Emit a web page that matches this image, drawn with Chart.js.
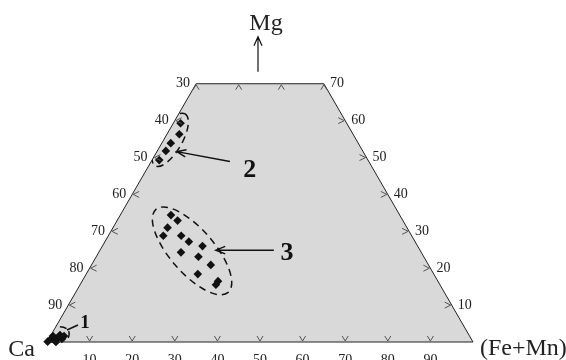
<!DOCTYPE html>
<html>
<head>
<meta charset="utf-8">
<script src="https://cdn.jsdelivr.net/npm/chart.js@4/dist/chart.umd.min.js"></script>
<style>
  html, body { margin: 0; padding: 0; background: #fff; }
  #wrap { width: 566px; height: 360px; }
</style>
</head>
<body>
<div id="wrap"><canvas id="ternaryChart" width="566" height="360"></canvas></div>
<script>
// compositions in %, Ca = 100 - Mg - (Fe+Mn)
const group1Mg   = [0.1, 0.8, 0.4, 1.6, 1.1, 0.8, 1.9, 1.6, 0.0];
const group1FeMn = [0.1, 0.5, 1.7, 0.6, 2.0, 3.1, 2.1, 3.2, 2.1];
const group2Mg   = [59.3, 56.3, 53.9, 51.8, 49.3];
const group2FeMn = [1.7, 2.9, 2.1, 2.0, 1.7];
const group3Mg   = [34.4, 32.9, 31.0, 28.8, 28.8, 27.2, 26.0, 24.3, 23.1, 20.9, 18.4, 16.5, 15.5];
const group3FeMn = [11.9, 14.2, 12.8, 12.9, 17.1, 19.7, 23.5, 19.3, 24.0, 28.0, 26.2, 31.9, 31.9];

// diagram frame (cut at Mg = 70): Ca corner, top-left, top-right, (Fe+Mn) corner
const frameMg   = [0, 70, 70, 0];
const frameFeMn = [0, 0, 30, 100];

// tick labels
const bottomTicks = [10, 20, 30, 40, 50, 60, 70, 80, 90];     // Fe+Mn
const leftTicks   = [30, 40, 50, 60, 70, 80, 90];             // Ca
const rightTicks  = [10, 20, 30, 40, 50, 60, 70];             // Mg
const topTicks    = [0, 10, 20, 30];                          // Fe+Mn along Mg = 70
const cornerNames = ["Ca", "Mg", "(Fe+Mn)"];

const H = Math.sqrt(3) / 2;
function toXY(mg, feMn) {
  return { x: feMn + mg / 2, y: mg * H };
}
function pointsOf(mgs, fes) {
  return mgs.map((m, i) => toXY(m, fes[i]));
}

const SERIF = '"Liberation Serif", "DejaVu Serif", serif';

// group rings / arrows, anchored in composition space
const rings = [
  { mg: 1.1, fe: 1.1, rx: 16, ry: 10, rot: -25 },
  { mg: 54.8, fe: 1.5, rx: 30, ry: 12, rot: -60 },
  { mg: 24.7, fe: 21.7, rx: 55, ry: 22, rot: 49 }
];
const pointers = [
  { text: "1", from: [3.25, 3.07], to: [4.61, 4.97], label: [5.2, 6.3], size: 19, head: false },
  { text: "2", from: [48.9, 18.5], to: [51.6, 4.66], label: [46.6, 24.3], size: 26, head: true },
  { text: "3", from: [24.9, 40.8], to: [24.9, 27.2], label: [24.1, 44.3], size: 26, head: true }
];

const ternaryDecor = {
  id: "ternaryDecor",
  afterDatasetsDraw(chart) {
    const ctx = chart.ctx;
    const sx = chart.scales.x, sy = chart.scales.y;
    const pix = (mg, fe) => {
      const p = toXY(mg, fe);
      return [sx.getPixelForValue(p.x), sy.getPixelForValue(p.y)];
    };
    ctx.save();

    // chevron ticks
    ctx.strokeStyle = "#555";
    ctx.lineWidth = 1;
    function chev(x, y, ax, ay, bx, by) {
      ctx.beginPath();
      ctx.moveTo(x + ax, y + ay);
      ctx.lineTo(x, y);
      ctx.lineTo(x + bx, y + by);
      ctx.stroke();
    }
    bottomTicks.forEach(v => { const [x, y] = pix(0, v); chev(x, y - 1, -3, -5, 3, -5); });
    topTicks.forEach(v => { const [x, y] = pix(70, v); chev(x, y + 1, -3, 5, 3, 5); });
    leftTicks.filter(v => v > 30).forEach(v => { const [x, y] = pix(100 - v, 0); chev(x + 1, y, 6, -3, 6, 3); });
    rightTicks.filter(v => v < 70).forEach(v => { const [x, y] = pix(v, 100 - v); chev(x - 1, y, -6, -3, -6, 3); });

    // tick labels
    ctx.fillStyle = "#222";
    ctx.font = "14px " + SERIF;
    ctx.textAlign = "center";
    ctx.textBaseline = "top";
    bottomTicks.forEach(v => { const [x, y] = pix(0, v); ctx.fillText(String(v), x, y + 11); });
    ctx.textBaseline = "middle";
    ctx.textAlign = "right";
    leftTicks.forEach(v => { const [x, y] = pix(100 - v, 0); ctx.fillText(String(v), x - 6, y); });
    ctx.textAlign = "left";
    rightTicks.forEach(v => { const [x, y] = pix(v, 100 - v); ctx.fillText(String(v), x + 6, y); });

    // corner names
    ctx.font = "24px " + SERIF;
    ctx.textBaseline = "alphabetic";
    const [cax, cay] = pix(0, 0);
    ctx.textAlign = "right";
    ctx.fillText(cornerNames[0], cax - 12, cay + 14);
    const [fex, fey] = pix(0, 100);
    ctx.textAlign = "left";
    ctx.fillText(cornerNames[2], fex + 7, fey + 13);
    const [tlx, tly] = pix(70, 0);
    const [trx] = pix(70, 30);
    const mx = (tlx + trx) / 2;
    ctx.textAlign = "center";
    ctx.fillText(cornerNames[1], mx + 6, tly - 54);

    // Mg arrow
    ctx.strokeStyle = "#111";
    ctx.lineWidth = 1.2;
    ctx.beginPath();
    ctx.moveTo(mx - 2, tly - 12);
    ctx.lineTo(mx - 2, tly - 47);
    ctx.moveTo(mx - 6, tly - 38);
    ctx.lineTo(mx - 2, tly - 47);
    ctx.lineTo(mx + 2, tly - 38);
    ctx.stroke();

    // dashed rings, clipped to the frame
    ctx.save();
    ctx.beginPath();
    frameMg.forEach((m, i) => {
      const [x, y] = pix(m, frameFeMn[i]);
      if (i === 0) ctx.moveTo(x, y); else ctx.lineTo(x, y);
    });
    ctx.closePath();
    ctx.clip();
    ctx.setLineDash([7, 5]);
    ctx.lineWidth = 1.5;
    rings.forEach(r => {
      const [x, y] = pix(r.mg, r.fe);
      ctx.beginPath();
      ctx.ellipse(x, y, r.rx, r.ry, r.rot * Math.PI / 180, 0, Math.PI * 2);
      ctx.stroke();
    });
    ctx.restore();

    // pointers and group numbers
    ctx.strokeStyle = "#111";
    ctx.fillStyle = "#111";
    ctx.lineWidth = 1.5;
    pointers.forEach(p => {
      const [x0, y0] = pix(p.from[0], p.from[1]);
      const [x1, y1] = pix(p.to[0], p.to[1]);
      ctx.beginPath();
      ctx.moveTo(x0, y0);
      ctx.lineTo(x1, y1);
      if (p.head) {
        const a = Math.atan2(y1 - y0, x1 - x0);
        const L = 10, w = 0.38;
        ctx.moveTo(x1 - L * Math.cos(a - w), y1 - L * Math.sin(a - w));
        ctx.lineTo(x1, y1);
        ctx.lineTo(x1 - L * Math.cos(a + w), y1 - L * Math.sin(a + w));
      }
      ctx.stroke();
      const [lx, ly] = pix(p.label[0], p.label[1]);
      ctx.font = "bold " + p.size + "px " + SERIF;
      ctx.textAlign = "center";
      ctx.textBaseline = "middle";
      ctx.fillText(p.text, lx, ly);
    });

    ctx.restore();
  }
};

const markStyle = {
  pointStyle: "rectRot",
  pointRadius: 4.3,
  backgroundColor: "#111",
  borderColor: "#111",
  borderWidth: 0,
  showLine: false
};

const framePts = pointsOf(frameMg, frameFeMn);

new Chart(document.getElementById("ternaryChart"), {
  type: "scatter",
  data: {
    datasets: [
      Object.assign({ label: "1", data: pointsOf(group1Mg, group1FeMn) }, markStyle),
      Object.assign({ label: "2", data: pointsOf(group2Mg, group2FeMn) }, markStyle),
      Object.assign({ label: "3", data: pointsOf(group3Mg, group3FeMn) }, markStyle),
      {
        type: "line",
        label: "base",
        data: [framePts[0], framePts[framePts.length - 1]],
        fill: false,
        borderColor: "#222",
        borderWidth: 1,
        pointRadius: 0
      },
      {
        type: "line",
        label: "frame",
        data: framePts,
        fill: { target: "origin" },
        backgroundColor: "#d9d9d9",
        borderColor: "#222",
        borderWidth: 1,
        pointRadius: 0,
        tension: 0
      }
    ]
  },
  options: {
    responsive: false,
    animation: false,
    events: [],
    layout: { autoPadding: false, padding: { left: 47, right: 93, top: 0, bottom: 0 } },
    scales: {
      x: { type: "linear", min: 0, max: 100, display: false },
      y: { type: "linear", min: -4.225, max: 80.28, display: false }
    },
    plugins: {
      legend: { display: false },
      tooltip: { enabled: false }
    },
    clip: false
  },
  plugins: [ternaryDecor]
});
</script>
</body>
</html>
